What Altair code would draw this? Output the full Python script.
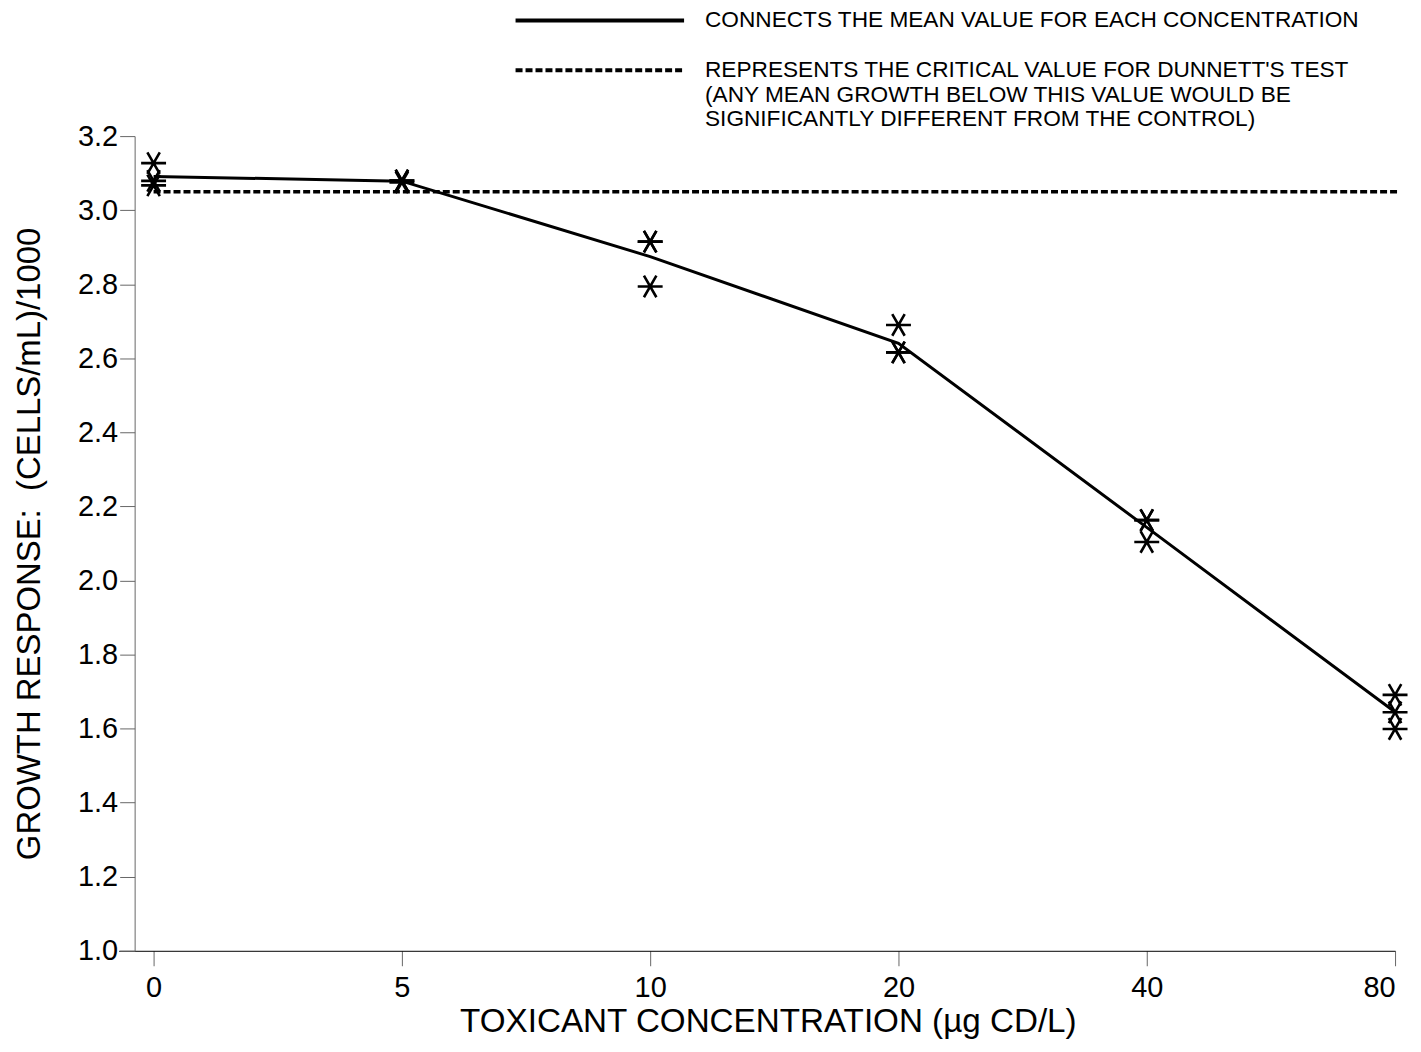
import json
import altair as alt
import pandas as pd

# ---- data ----
conc_labels = ["0", "5", "10", "20", "40", "80"]
rep_c0 = [3.127, 3.079, 3.067]
rep_c5 = [3.080, 3.080, 3.075]
rep_c10 = [2.915, 2.915, 2.794]
rep_c20 = [2.690, 2.616, 2.616]
rep_c40 = [2.163, 2.163, 2.104]
rep_c80 = [1.691, 1.644, 1.599]
dunnett_critical = 3.05

y_major = [1.0, 1.2, 1.4, 1.6, 1.8, 2.0, 2.2, 2.4, 2.6, 2.8, 3.0, 3.2]
legend_solid = "CONNECTS THE MEAN VALUE FOR EACH CONCENTRATION"
legend_dashed = [
    "REPRESENTS THE CRITICAL VALUE FOR DUNNETT'S TEST",
    "(ANY MEAN GROWTH BELOW THIS VALUE WOULD BE",
    "SIGNIFICANTLY DIFFERENT FROM THE CONTROL)",
]

reps = [rep_c0, rep_c5, rep_c10, rep_c20, rep_c40, rep_c80]
rows = []
for i, vals in enumerate(reps):
    for v in vals:
        rows.append({"idx": i, "conc": conc_labels[i], "value": v})
df = pd.DataFrame(rows)

FONT = "Liberation Sans"
W, H = 1280, 817
x_dom = [-35 / 249, 5]

# minor ticks every 0.05 between the major ones
y_ticks = []
for a in y_major[:-1]:
    for k in range(4):
        y_ticks.append(round(a + 0.05 * k, 2))
y_ticks.append(y_major[-1])

major_test = "abs(round(datum.value*5) - datum.value*5) < 0.001"

x_scale = alt.Scale(domain=x_dom, nice=False, zero=False)
y_scale = alt.Scale(domain=[1.0, 3.2], nice=False, zero=False)

x_axis = alt.Axis(
    values=list(range(len(conc_labels))),
    labelExpr=json.dumps(conc_labels) + "[datum.value]",
    title="TOXICANT CONCENTRATION (µg CD/L)",
    grid=False,
    tickSize=15,
    tickColor="#666666",
    domainColor="#000000",
    labelFont=FONT, labelFontSize=29, labelColor="#000000", labelPadding=8,
    titleFont=FONT, titleFontSize=33.3, titleFontWeight="normal", titleColor="#000000",
    titlePadding=3, titleX=651, titleAlign="center",
)
y_axis = alt.Axis(
    values=y_ticks,
    labelExpr=major_test + " ? format(datum.value, '.1f') : ''",
    title="GROWTH RESPONSE:\u00a0 (CELLS/mL)/1000",
    grid=False,
    offset=-16,
    tickSize={"condition": {"test": major_test, "value": 15}, "value": 7},
    tickColor="#666666",
    domainColor="#666666",
    labelFont=FONT, labelFontSize=29, labelColor="#000000", labelPadding=2,
    labelBound=False, labelOverlap=False, labelFlush=False,
    titleFont=FONT, titleFontSize=33, titleFontWeight="normal", titleColor="#000000",
    titlePadding=31,
)

base = alt.Chart(df)

asterisk = "M-1,0L1,0M-0.5,-0.866L0.5,0.866M-0.5,0.866L0.5,-0.866"

points = base.mark_point(
    shape=asterisk, filled=False, size=625, strokeWidth=2.6, color="black", opacity=1
).encode(
    x=alt.X("idx:Q", scale=x_scale, axis=x_axis),
    y=alt.Y("value:Q", scale=y_scale, axis=y_axis),
)

mean_line = base.mark_line(color="black", strokeWidth=3).encode(
    x=alt.X("idx:Q", scale=x_scale),
    y=alt.Y("mean(value):Q", scale=y_scale),
)

one = alt.Data(values=[{}])

dunnett = alt.Chart(one).mark_rule(color="black", strokeWidth=3.5, strokeDash=[7, 3]).encode(
    x=alt.datum(0, scale=x_scale),
    x2=alt.value(W + 4),
    y=alt.datum(dunnett_critical, scale=y_scale),
)

LY1 = -116
LY2 = -66
leg_solid_line = alt.Chart(one).mark_rule(color="black", strokeWidth=4).encode(
    x=alt.value(398), x2=alt.value(567), y=alt.value(LY1)
)
leg_dash_line = alt.Chart(one).mark_rule(color="black", strokeWidth=4, strokeDash=[7, 3]).encode(
    x=alt.value(398), x2=alt.value(567), y=alt.value(LY2)
)
leg_text1 = alt.Chart(one).mark_text(
    text=legend_solid, font=FONT, fontSize=22.7, align="left", baseline="middle", color="black"
).encode(x=alt.value(588), y=alt.value(LY1))

leg_texts = []
for j, line in enumerate(legend_dashed):
    leg_texts.append(
        alt.Chart(one).mark_text(
            text=line, font=FONT, fontSize=22.7, align="left", baseline="middle", color="black"
        ).encode(x=alt.value(588), y=alt.value(LY2 + 24.5 * j))
    )

chart = alt.layer(
    dunnett, mean_line, points, leg_solid_line, leg_dash_line, leg_text1, *leg_texts
).properties(
    width=W, height=H,
    padding={"left": 5, "top": 0, "right": 0, "bottom": 0},
    background="white",
).configure_view(stroke=None)

chart.save("out.html", embed_options={"renderer": "svg", "actions": False})
